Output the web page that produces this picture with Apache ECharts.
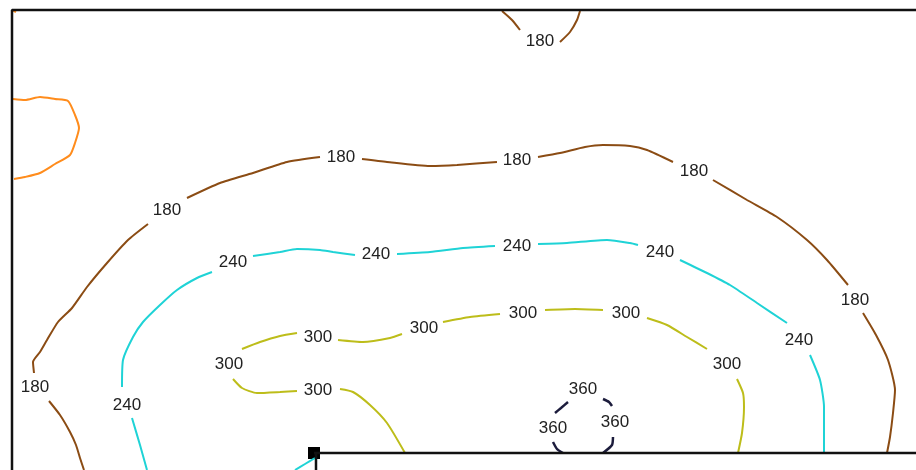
<!DOCTYPE html>
<html>
<head>
<meta charset="utf-8">
<title>Contours</title>
<script src="https://cdn.jsdelivr.net/npm/echarts@6/dist/echarts.min.js"></script>
<style>
  html, body { margin: 0; padding: 0; background: #fff; }
  #chart { width: 916px; height: 470px; }
</style>
</head>
<body>
<div id="chart"></div>
<script>
// contour pieces, in map units (x to the right, y downwards)
const orange120 = [
  [[12, 10], [16, 12]],
  [[13, 99], [25, 100], [40, 97], [55, 99], [68, 101], [75, 115], [79, 128], [75, 143], [70, 155], [55, 164], [40, 173], [25, 177], [14, 179]]
];
const brown180 = [
  [[502, 11], [512, 20], [520, 30]],
  [[560, 42], [570, 32], [577, 20], [580, 11]],
  [[84, 470], [80, 458], [76, 445], [70, 432], [60, 415], [49, 401]],
  [[34, 373], [33, 362], [40, 352], [47, 340], [58, 322], [72, 308], [87, 287], [107, 263], [128, 240], [148, 224]],
  [[187, 198], [220, 183], [253, 173], [287, 162], [320, 157]],
  [[362, 159], [387, 162], [430, 166], [457, 165], [497, 162]],
  [[538, 157], [560, 153], [585, 147], [603, 145], [630, 146], [647, 150], [673, 162]],
  [[713, 180], [747, 200], [777, 217], [807, 240], [827, 260], [848, 285]],
  [[863, 313], [876, 335], [888, 360], [895, 390], [893, 413], [890, 437], [887, 453]]
];
const cyan240 = [
  [[147, 470], [140, 445], [132, 418]],
  [[122, 387], [123, 360], [133, 337], [143, 322], [160, 305], [177, 290], [197, 278], [212, 272]],
  [[253, 256], [280, 252], [297, 249], [320, 250], [333, 252], [355, 255]],
  [[397, 254], [430, 252], [463, 248], [495, 246]],
  [[538, 244], [567, 243], [607, 240], [630, 243], [638, 245]],
  [[680, 260], [707, 273], [730, 285], [757, 303], [787, 323]],
  [[810, 355], [820, 380], [824, 407], [824, 453]],
  [[295, 470], [305, 464], [315, 458]]
];
const olive300 = [
  [[242, 349], [260, 342], [280, 336], [297, 333]],
  [[338, 340], [363, 342], [390, 338], [402, 334]],
  [[443, 322], [470, 317], [500, 314]],
  [[545, 310], [575, 309], [603, 310]],
  [[647, 318], [667, 325], [687, 337], [707, 349]],
  [[737, 379], [743, 393], [744, 407], [742, 433], [738, 453]],
  [[233, 379], [242, 388], [257, 393], [280, 392], [297, 391]],
  [[340, 389], [353, 392], [370, 405], [387, 423], [405, 453]]
];
const navy360 = [
  [[568, 402], [561, 408], [555, 413]],
  [[603, 399], [609, 402], [612, 406]],
  [[553, 442], [557, 449], [563, 453]],
  [[613, 437], [612, 445], [603, 453]]
];
// label anchors for each level
const labels180 = [[540, 41], [35, 387], [167, 210], [341, 157], [517, 160], [694, 171], [855, 300]];
const labels240 = [[127, 405], [233, 262], [376, 254], [517, 246], [660, 252], [799, 340]];
const labels300 = [[229, 364], [318, 337], [424, 328], [523, 313], [626, 313], [727, 364], [318, 390]];
const labels360 = [[583, 389], [553, 428], [615, 422]];
// frame and well
const frame = [[[12, 470], [12, 10], [916, 10]], [[916, 453], [314, 453]], [[316, 453], [316, 470]]];
const well = [[314, 453]];

let myChart = echarts.init(document.getElementById('chart'));

function contour(pieces, color, width) {
  return pieces.map(p => ({
    type: 'line',
    data: p,
    showSymbol: false,
    smooth: 0.2,
    silent: true,
    clip: false,
    lineStyle: { color: color, width: width || 2 }
  }));
}
function labelSeries(points, text) {
  return {
    type: 'scatter',
    data: points,
    symbolSize: 1,
    itemStyle: { color: 'rgba(0,0,0,0)', opacity: 1 },
    silent: true,
    label: {
      show: true,
      position: 'inside',
      formatter: text,
      color: '#222',
      opacity: 1,
      fontSize: 17,
      fontFamily: 'Liberation Sans, Arial, sans-serif'
    }
  };
}

let series = [].concat(
  contour(orange120, '#ff8c1c'),
  contour(brown180, '#8b4c14'),
  contour(cyan240, '#1fd3d6'),
  contour(olive300, '#bdbd1a'),
  contour(navy360, '#1c1c3c', 2.5),
  frame.map(p => ({
    type: 'line', data: p, showSymbol: false, silent: true, clip: false,
    lineStyle: { color: '#111', width: 2.5 }
  })),
  [
    labelSeries(labels180, '180'),
    labelSeries(labels240, '240'),
    labelSeries(labels300, '300'),
    labelSeries(labels360, '360'),
    {
      type: 'scatter', data: well, symbol: 'rect', symbolSize: 12,
      itemStyle: { color: '#000', opacity: 1 }, silent: true
    }
  ]
);

let option = {
  animation: false,
  grid: { left: 0, top: 0, right: 0, bottom: 0 },
  xAxis: { type: 'value', min: 0, max: 916, show: false },
  yAxis: { type: 'value', min: 0, max: 470, inverse: true, show: false },
  series: series
};
option && myChart.setOption(option);
</script>
</body>
</html>
